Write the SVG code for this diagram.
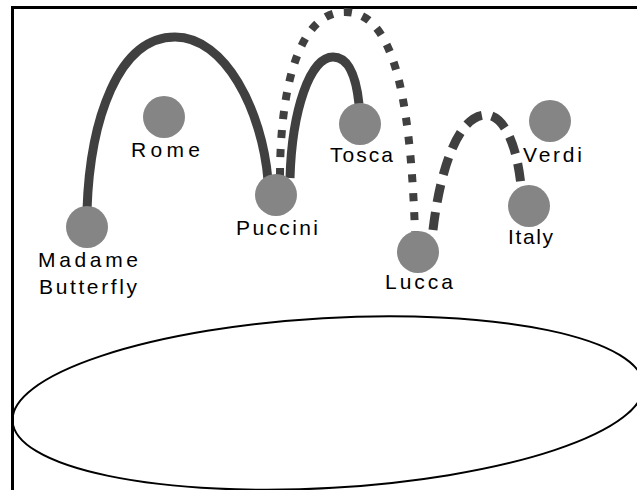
<svg xmlns="http://www.w3.org/2000/svg" width="637" height="490" viewBox="0 0 637 490">
<style>
.node{fill:#858585;}
.lbl{font-family:"Liberation Sans",Arial,sans-serif;font-size:21px;fill:#000;}
.solid{fill:none;stroke:#404040;stroke-width:9;stroke-linecap:butt;}
.dot{fill:none;stroke:#404040;stroke-width:8;stroke-dasharray:8 11;}
.dash{fill:none;stroke:#404040;stroke-width:9;stroke-dasharray:18 10;}
</style>
<rect x="0" y="0" width="637" height="490" fill="#fff"/>
<g id="frame" stroke="#000" stroke-width="3" fill="none">
<line x1="11" y1="7.5" x2="637" y2="7.5"/>
<line x1="12.5" y1="6" x2="12.5" y2="490"/>
</g>
<ellipse id="base" cx="328" cy="403" rx="316" ry="85" transform="rotate(-3.3 328 403)" fill="none" stroke="#000" stroke-width="2"/>
<g id="connectors">
<path class="solid" d="M87,210 C90,120 118,37 175,37 C225,37 262,110 268,180"/>
<path class="solid" d="M290,178 C292,110 310,57 333,57 C352,57 357,85 359,104"/>
<path class="dot" d="M280,176 C280,100 295,12 345,12 C392,12 410,90 415,232"/>
<path class="dash" d="M433,230 C440,170 458,115 486,115 C504,115 517,145 521,186"/>
</g>
<g id="madame-butterfly"><circle class="node" cx="87" cy="227" r="21"/><text class="lbl" x="38" y="267" textLength="100" lengthAdjust="spacing">Madame</text><text class="lbl" x="39" y="294" textLength="98" lengthAdjust="spacing">Butterfly</text></g>
<g id="rome"><circle class="node" cx="164" cy="117" r="21"/><text class="lbl" x="131" y="157" textLength="69" lengthAdjust="spacing">Rome</text></g>
<g id="puccini"><circle class="node" cx="276" cy="195" r="21"/><text class="lbl" x="236" y="235" textLength="82" lengthAdjust="spacing">Puccini</text></g>
<g id="tosca"><circle class="node" cx="360" cy="124" r="21"/><text class="lbl" x="330" y="162" textLength="63" lengthAdjust="spacing">Tosca</text></g>
<g id="verdi"><circle class="node" cx="550" cy="121" r="21"/><text class="lbl" x="523" y="162" textLength="59" lengthAdjust="spacing">Verdi</text></g>
<g id="italy"><circle class="node" cx="529" cy="206" r="21"/><text class="lbl" x="508" y="244" textLength="45" lengthAdjust="spacing">Italy</text></g>
<g id="lucca"><circle class="node" cx="418" cy="252" r="21"/><text class="lbl" x="385" y="289" textLength="68" lengthAdjust="spacing">Lucca</text></g>
</svg>
